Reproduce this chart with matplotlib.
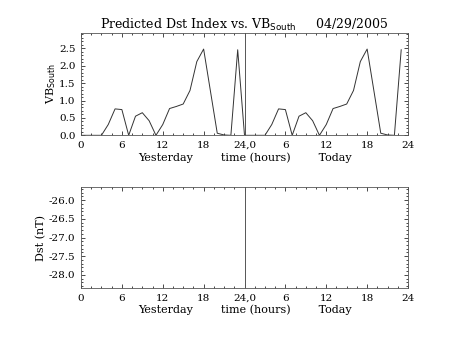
import matplotlib
matplotlib.use("Agg")
import matplotlib.pyplot as plt
from matplotlib.ticker import MultipleLocator, FixedLocator, FormatStrFormatter

plt.rcParams['font.family'] = ['DejaVu Serif']

# hourly VB_South values
yesterday_vb = [0, 0, 0, 0, 0.31, 0.76, 0.74, 0, 0.55, 0.65, 0.42, 0,
                0.31, 0.77, 0.83, 0.90, 1.29, 2.12, 2.48, 1.27, 0.06, 0.01, 0, 2.46]
today_vb = [0, 0, 0, 0, 0.31, 0.76, 0.74, 0, 0.55, 0.65, 0.42, 0,
            0.31, 0.77, 0.83, 0.90, 1.29, 2.12, 2.48, 1.27, 0.06, 0.01, 0, 2.46]
dst_values = []  # no Dst data drawn

xtick_vals = [0, 6, 12, 18, 24, 30, 36, 42, 48]
xtick_labels = ['0', '6', '12', '18', '24,0', '6', '12', '18', '24']

hours = list(range(len(yesterday_vb) + len(today_vb)))
vb = yesterday_vb + today_vb

fig = plt.figure(figsize=(4.53, 3.40), dpi=100)
ax1 = fig.add_axes([0.1788, 0.602, 0.7219, 0.3018])
ax2 = fig.add_axes([0.1788, 0.1529, 0.7219, 0.297])

lw = 0.7
for ax in (ax1, ax2):
    ax.set_xlim(0, 48)
    ax.xaxis.set_major_locator(FixedLocator(xtick_vals))
    ax.set_xticklabels(xtick_labels)
    ax.xaxis.set_minor_locator(MultipleLocator(1.5))
    ax.tick_params(which='both', direction='in', top=True, right=True,
                   width=0.5, labelsize=7.5, pad=4, colors='black')
    ax.tick_params(which='major', length=3)
    ax.tick_params(which='minor', length=1.6)
    for s in ax.spines.values():
        s.set_linewidth(0.6)
        s.set_color('#555555')
    ax.axvline(24, color='#555555', lw=0.7)
    ax.set_xlabel('Yesterday        time (hours)        Today', fontsize=8, labelpad=1.5)

ax1.plot(hours, vb, color='#333333', lw=lw)
ax1.set_ylim(0, 2.95)
ax1.yaxis.set_major_locator(MultipleLocator(0.5))
ax1.yaxis.set_minor_locator(MultipleLocator(0.1))
ax1.yaxis.set_major_formatter(FormatStrFormatter('%.1f'))
ax1.set_ylabel(r'VB$_{\mathrm{South}}$', fontsize=8, labelpad=1)
ax1.set_title(r'Predicted Dst Index vs. VB$_{\mathrm{South}}$     04/29/2005',
              fontsize=9, pad=3)

ax2.set_ylim(-28.35, -25.65)
ax2.yaxis.set_major_locator(MultipleLocator(0.5))
ax2.yaxis.set_minor_locator(MultipleLocator(0.1))
ax2.yaxis.set_major_formatter(FormatStrFormatter('%.1f'))
ax2.set_ylabel('Dst (nT)', fontsize=8, labelpad=1.5)

fig.savefig('out.png', dpi=100, facecolor='white')
